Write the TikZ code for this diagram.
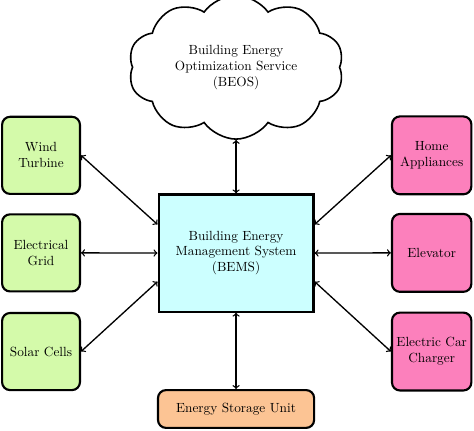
\documentclass[tikz,border=0pt]{standalone}
\usepackage{tikz}
\usetikzlibrary{positioning}
\usetikzlibrary{shapes}
\definecolor{sourceGreen}{RGB}{212,250,170}
\definecolor{loadPink}{RGB}{252,128,188}
\definecolor{bemsCyan}{RGB}{204,255,255}
\definecolor{storageOrange}{RGB}{252,196,148}
\tikzset{
    sourceBox/.style={draw, line width=1.6pt, rounded corners=6pt, fill=sourceGreen,
        minimum width=2.06cm, minimum height=2.04cm, align=center, inner sep=2pt}
}
\tikzset{
    loadBox/.style={draw, line width=1.6pt, rounded corners=6pt, fill=loadPink,
        minimum width=2.1cm, minimum height=2.06cm, align=center, inner sep=2pt}
}
\tikzset{
    bemsBox/.style={draw, line width=1.6pt, fill=bemsCyan,
        minimum width=4.1cm, minimum height=3.1cm, align=center}
}
\tikzset{
    storageBox/.style={draw, line width=1.6pt, rounded corners=6pt, fill=storageOrange,
        minimum width=4.13cm, minimum height=1cm, align=center}
}
\tikzset{
    cloudNode/.style={draw, very thick, cloud, cloud puffs=10, cloud puff arc=110, aspect=1.6,
        minimum width=5.7cm, minimum height=3.8cm, align=center}
}
\begin{document}
\begin{tikzpicture}[link/.style={line width=1pt, <->}]
			\useasboundingbox (0,0) rectangle (12.54,-11.38);
			\node[cloudNode] (beos) at (6.245,-1.78) {Building Energy\\Optimization Service\\(BEOS)};
			\node[bemsBox] (bems) at (6.245,-6.694) {Building Energy\\Management System\\(BEMS)};
			\node[storageBox] (storage) at (6.245,-10.82) {Energy Storage Unit};
			% energy sources
			\node[sourceBox] (wind) at (1.085,-4.11) {Wind\\Turbine};
			\node[sourceBox] (grid) at (1.085,-6.69) {Electrical\\Grid};
			\node[sourceBox] (solar) at (1.085,-9.30) {Solar Cells};
			% loads
			\node[loadBox] (home) at (11.42,-4.11) {Home\\Appliances};
			\node[loadBox] (elevator) at (11.42,-6.69) {Elevator};
			\node[loadBox] (car) at (11.42,-9.30) {Electric Car\\Charger};
			\draw[link] (beos.south) -- (bems.north);
			\draw[link] (bems.south) -- (storage.north);
			\draw[link] (wind.east) -- (bems.160);
			\draw[link] (grid.east) -- (bems.west);
			\draw[link] (solar.east) -- (bems.200);
			\draw[link] (bems.20) -- (home.west);
			\draw[link] (bems.east) -- (elevator.west);
			\draw[link] (bems.340) -- (car.west);
		\end{tikzpicture}
\end{document}
